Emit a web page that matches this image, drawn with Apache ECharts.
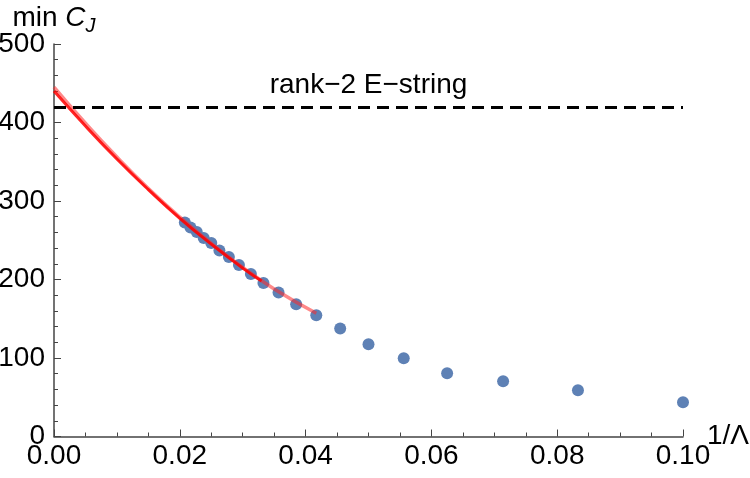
<!DOCTYPE html>
<html>
<head>
<meta charset="utf-8">
<script src="https://cdn.jsdelivr.net/npm/echarts@6/dist/echarts.min.js"></script>
<style>
  html, body { margin: 0; padding: 0; background: #fff; }
  #main { width: 750px; height: 478px; }
</style>
</head>
<body>
<div id="main"></div>
<script>
// data points: 1/Lambda vs min C_J
var invLambda = [0.1, 0.0833, 0.0714, 0.0625, 0.0556, 0.05, 0.0455, 0.0417, 0.0385, 0.0357,
                 0.0333, 0.0313, 0.0294, 0.0278, 0.0263, 0.025, 0.0238, 0.0227, 0.0217, 0.0208];
var minCJ = [43.6, 58.9, 70.4, 80.6, 99.7, 117.6, 137.5, 154.6, 168.6, 183.4,
             195.4, 206.9, 218.4, 228.6, 237.0, 246.4, 252.8, 260.5, 266.3, 272.7];

// extrapolation fits
var fitMainX = [0, 0.005, 0.01, 0.015, 0.02, 0.025, 0.03, 0.033];
var fitMainY = [440, 395.5, 353.5, 314.5, 278, 245, 214.5, 198];
var fitWideX = [0, 0.005, 0.01, 0.015, 0.02, 0.025, 0.03, 0.035, 0.0417];
var fitWideY = [445, 399, 356, 316, 279.5, 246, 215.5, 188, 157];

var eStringBound = 420;
var xTicks = [0, 0.1, 0.02];
var yTicks = [0, 500, 100];

function pairs(xs, ys) {
  var out = [];
  for (var i = 0; i < xs.length; i++) out.push([xs[i], ys[i]]);
  return out;
}

var FONT = '"Liberation Sans", Arial, sans-serif';
var axisCol = '#444';

var myChart = echarts.init(document.getElementById('main'));
var option = {
  animation: false,
  backgroundColor: '#fff',
  textStyle: { fontFamily: FONT },
  grid: { left: 54, right: 67, top: 44, bottom: 41.5, containLabel: false, outerBoundsMode: 'none' },
  xAxis: {
    type: 'value',
    min: xTicks[0], max: xTicks[1], interval: xTicks[2],
    name: '1/Λ',
    nameLocation: 'end',
    nameGap: 24,
    nameMoveOverlap: false,
    nameTextStyle: { fontSize: 28, color: '#000', fontFamily: FONT },
    axisLine: { lineStyle: { color: axisCol, width: 1.5 } },
    axisTick: { inside: true, length: 7, lineStyle: { color: axisCol } },
    minorTick: { show: true, splitNumber: 4, length: 4, lineStyle: { color: axisCol } },
    axisLabel: { fontSize: 28, color: '#000', margin: 6, fontFamily: FONT,
      formatter: function (v) { return v.toFixed(2); } },
    splitLine: { show: false }
  },
  yAxis: {
    type: 'value',
    min: yTicks[0], max: yTicks[1], interval: yTicks[2],
    name: '{n|min }{c|C}{s|J}',
    nameLocation: 'end',
    nameGap: 8,
    nameMoveOverlap: false,
    nameTextStyle: {
      align: 'center',
      rich: {
        n: { fontSize: 28, color: '#000', fontFamily: FONT },
        c: { fontSize: 28, color: '#000', fontFamily: FONT, fontStyle: 'italic' },
        s: { fontSize: 20, color: '#000', fontFamily: FONT, fontStyle: 'italic', padding: [16, 0, 0, 0] }
      }
    },
    axisLine: { show: true, lineStyle: { color: axisCol, width: 1.5 } },
    axisTick: { show: true, inside: true, length: 7, lineStyle: { color: axisCol } },
    minorTick: { show: true, splitNumber: 5, length: 4, lineStyle: { color: axisCol } },
    axisLabel: { fontSize: 28, color: '#000', margin: 9, fontFamily: FONT },
    splitLine: { show: false }
  },
  series: [
    {
      type: 'scatter',
      data: pairs(invLambda, minCJ),
      symbolSize: 12,
      itemStyle: { color: '#5E81B5', opacity: 1 },
      z: 2,
      markLine: {
        silent: true,
        symbol: 'none',
        data: [{ yAxis: eStringBound }],
        lineStyle: { color: '#000', width: 3, type: [12, 7] },
        label: {
          show: true,
          position: 'insideMiddleTop',
          distance: 8,
          formatter: 'rank−2 E−string',
          fontSize: 28, color: '#000', fontFamily: FONT
        }
      }
    },
    {
      type: 'line',
      data: pairs(fitWideX, fitWideY),
      smooth: true,
      showSymbol: false,
      lineStyle: { color: 'rgba(255,40,40,0.55)', width: 3.5 },
      z: 3
    },
    {
      type: 'line',
      data: pairs(fitMainX, fitMainY),
      smooth: true,
      showSymbol: false,
      lineStyle: { color: 'rgba(255,0,0,0.85)', width: 3 },
      z: 4
    }
  ]
};
myChart.setOption(option);
</script>
</body>
</html>
